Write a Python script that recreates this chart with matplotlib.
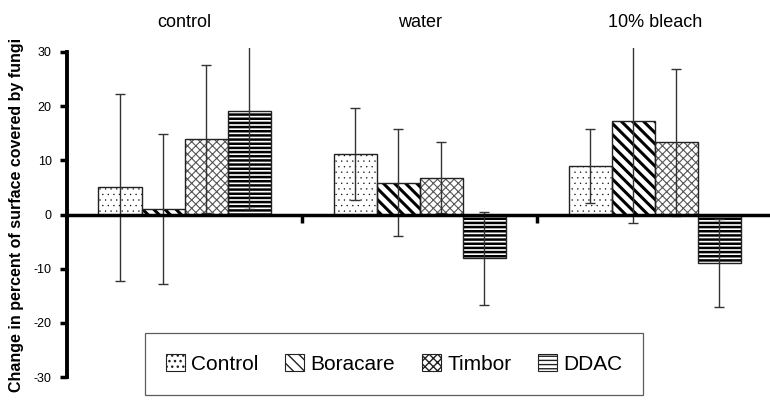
import numpy as np
import matplotlib
matplotlib.use("Agg")
import matplotlib.pyplot as plt
from matplotlib.transforms import blended_transform_factory

plt.rcParams['font.family'] = ['Liberation Sans', 'DejaVu Sans']

# data
groups = ['control', 'water', '10% bleach']
series = ['Control', 'Boracare', 'Timbor', 'DDAC']
values = {
    'Control':  [5.0, 11.1, 8.9],
    'Boracare': [1.0, 5.9, 17.2],
    'Timbor':   [13.9, 6.8, 13.3],
    'DDAC':     [19.1, -8.1, -8.9],
}
errors = {
    'Control':  [17.3, 8.5, 6.8],
    'Boracare': [13.8, 9.8, 18.8],
    'Timbor':   [13.7, 6.6, 13.6],
    'DDAC':     [18.1, 8.6, 8.1],
}
yticks = [-30, -20, -10, 0, 10, 20, 30]

# styles
hatches = {'Control': '...', 'Boracare': '\\\\\\', 'Timbor': 'xxxx', 'DDAC': '----'}
hatch_col = {'Control': 'black', 'Boracare': 'black', 'Timbor': '#555555', 'DDAC': 'black'}
hatch_lw = {'Control': 0.2, 'Boracare': 2.2, 'Timbor': 0.8, 'DDAC': 1.8}

fig = plt.figure(figsize=(7.7, 4.05), dpi=100)
ax = fig.add_axes([0.087, 0.069, 0.913, 0.812])

x = np.arange(len(groups))
width = 0.183
offsets = (np.arange(len(series)) - 1.5) * width

handles = []
for i, s in enumerate(series):
    pos = x + offsets[i]
    bars = ax.bar(pos, values[s], width, color='white', edgecolor=hatch_col[s],
                  hatch=hatches[s], linewidth=0, zorder=2)
    for b in bars:
        try:
            b.set_hatch_linewidth(hatch_lw[s])
        except AttributeError:
            pass
    ax.bar(pos, values[s], width, fill=False, edgecolor='#222222', linewidth=1.0, zorder=3)
    ax.errorbar(pos, values[s], yerr=errors[s], fmt='none', ecolor='#333333',
                elinewidth=1.0, capsize=3.5, capthick=1.0, zorder=4)
    h = plt.Rectangle((0, 0), 1, 1, facecolor='white', edgecolor='#222222',
                      hatch=hatches[s], linewidth=0.8)
    try:
        h.set_hatch_linewidth(hatch_lw[s] * 0.6)
    except AttributeError:
        pass
    handles.append(h)

ax.set_xlim(-0.5, 2.49)
ax.set_ylim(-30, 30.7)

ax.spines['top'].set_visible(False)
ax.spines['right'].set_visible(False)
ax.spines['left'].set_linewidth(2.8)
ax.spines['left'].set_bounds(-30, 30)
ax.spines['bottom'].set_position(('data', 0))
ax.spines['bottom'].set_linewidth(2.5)
ax.spines['bottom'].set_zorder(5)

ax.set_yticks(yticks)
ax.set_yticklabels([str(t) for t in yticks])
ax.tick_params(axis='y', direction='out', length=5, width=2.5, labelsize=9, pad=6)
ax.set_xticks(x[:-1] + 0.5)
ax.set_xticklabels([])
ax.tick_params(axis='x', direction='out', length=6, width=2.5)

trans = blended_transform_factory(ax.transData, fig.transFigure)
for i, g in enumerate(groups):
    ax.text(x[i], 0.945, g, transform=trans, ha='center', va='center', fontsize=13)

fig.text(0.022, 0.47, 'Change in percent of surface covered by fungi', rotation=90,
         ha='center', va='center', fontsize=11.5, fontweight='bold')

leg = fig.legend(handles, series, loc='center', bbox_to_anchor=(0.512, 0.101), ncol=4,
                 fontsize=15, frameon=True, fancybox=False, edgecolor='#333333',
                 handlelength=0.9, handleheight=0.9, handletextpad=0.3,
                 columnspacing=1.3, borderpad=1.0)
leg.get_frame().set_linewidth(0.9)

fig.savefig('out.png', dpi=100)
